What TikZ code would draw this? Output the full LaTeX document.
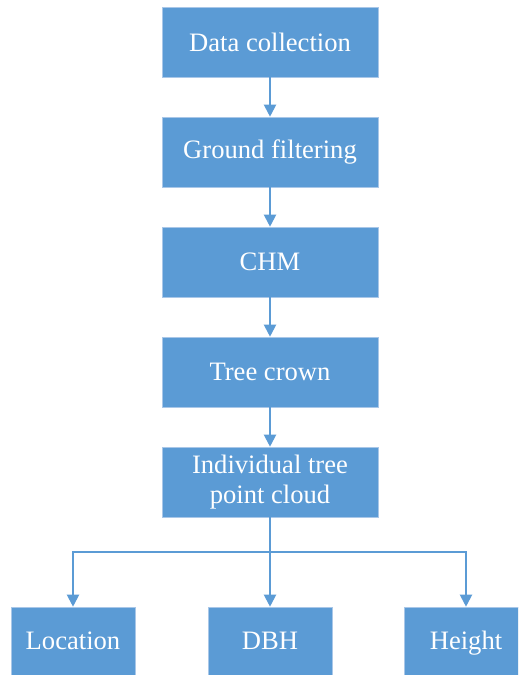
\documentclass[tikz,border=0pt]{standalone}
\usepackage{fontspec}
\setmainfont{Liberation Serif}
\usepackage{xcolor}
\usepackage{tikz}
\usetikzlibrary{arrows.meta}
\usetikzlibrary{shadows}
\definecolor{boxblue}{HTML}{5B9BD5}
\definecolor{boxedge}{HTML}{A9C7E8}
\definecolor{flowline}{HTML}{5B9BD5}

\begin{document}
\begin{tikzpicture}[x=0.03cm,y=-0.03cm,
    stage/.style={rectangle,fill=boxblue,draw=boxedge,line width=0.5pt,text=white,
        minimum width=6.48cm,minimum height=2.1cm,align=center,inner sep=0pt,
        font=\fontsize{22.7}{25.5}\selectfont,
        drop shadow={opacity=0.12,shadow xshift=0.6pt,shadow yshift=-1pt}},
    result/.style={stage,minimum width=3.72cm,text height=18.5pt,text depth=5pt},
    flow/.style={draw=flowline,line width=1.7pt,-{Triangle[length=0.36cm,width=0.36cm]}}]
    \useasboundingbox (0,0) rectangle (518,675);
    \clip (0,0) rectangle (518,675);

    \node [stage] (data) at (270,42) {Data collection};
    \node [stage] (ground) at (270,152) {Ground filtering};
    \node [stage] (chm) at (270,262) {CHM};
    \node [stage] (crown) at (270,372) {Tree crown};
    \node [stage] (indiv) at (270,482) {Individual tree\\point cloud};

    \node [result] (loc) at (73,642) {Location};
    \node [result] (dbh) at (270,642) {DBH};
    \node [result] (height) at (466,642) {Height};

    \coordinate (split) at (270,552);

    \draw[flow] (data) -- (ground);
    \draw[flow] (ground) -- (chm);
    \draw[flow] (chm) -- (crown);
    \draw[flow] (crown) -- (indiv);
    \draw[flow] (indiv) -- (dbh);
    \draw[flow] (split) -| (loc.north);
    \draw[flow] (split) -| (height.north);

\end{tikzpicture}
\end{document}
